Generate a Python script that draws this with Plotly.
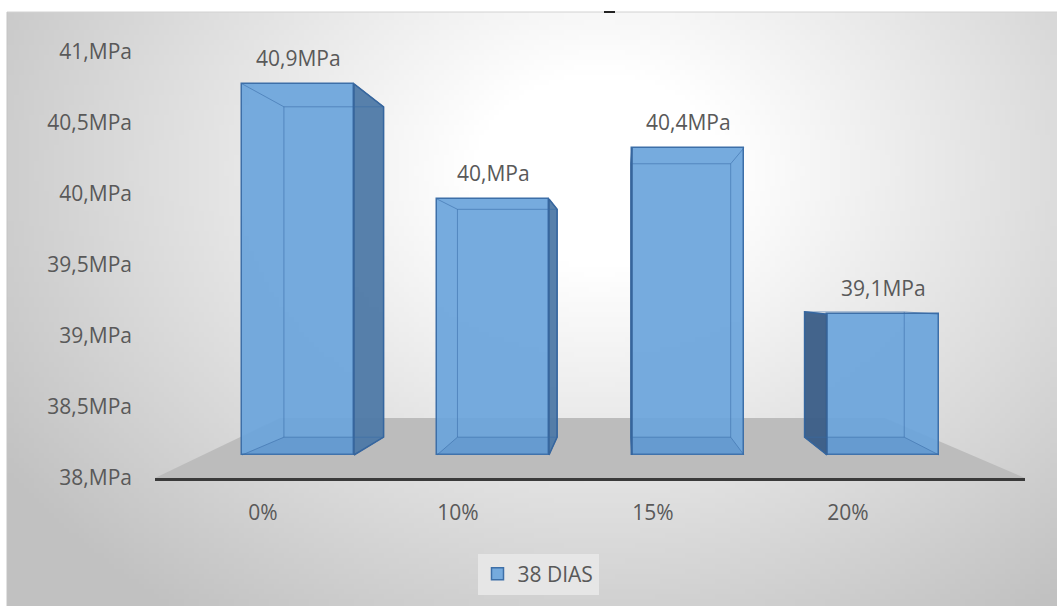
import base64
import math
import struct
import zlib

import plotly.graph_objects as go

# ---- data -------------------------------------------------------------
categories = ["0%", "10%", "15%", "20%"]
resistencia = [40.9, 40.0, 40.4, 39.1]          # MPa
serie = "38 DIAS"
y_ticks = [38.0, 38.5, 39.0, 39.5, 40.0, 40.5, 41.0]
FLOOR_VALUE = 38.0

# ---- page geometry (pixels) --------------------------------------------
W, H = 1057, 606
PLOT_L, PLOT_R = 155, 1025
PLOT_T, PLOT_B = 20, 478
X0_PX, X_STEP = 263, 195          # first category label, spacing
Y_SCALE = 142                      # px per MPa on the visible axis
BAR_FLOOR_PX, BAR_SCALE = 455, 128  # bar frame (front faces)

BAR_SHIFT = 35 / X_STEP           # front faces sit a little right of labels
BAR_W = 112 / X_STEP
VANISH_PX = (623, 293)            # perspective vanishing point
K = 0.89                          # depth factor of the back faces

TXT = "#595959"
FONT = "Open Sans"
FS = 21


def mpa(v):
    tenths = int(round(v * 10))
    whole, dec = divmod(tenths, 10)
    return f"{whole},{dec if dec else ''}MPa"


x_range = [(PLOT_L - X0_PX) / X_STEP, (PLOT_R - X0_PX) / X_STEP]
y_range = [FLOOR_VALUE, FLOOR_VALUE + (PLOT_B - PLOT_T) / Y_SCALE]
y2_range = [FLOOR_VALUE - (PLOT_B - BAR_FLOOR_PX) / BAR_SCALE,
            FLOOR_VALUE + (BAR_FLOOR_PX - PLOT_T) / BAR_SCALE]
VX = (VANISH_PX[0] - X0_PX) / X_STEP
VY = FLOOR_VALUE + (BAR_FLOOR_PX - VANISH_PX[1]) / BAR_SCALE


def back(x, y):
    return VX + K * (x - VX), VY + K * (y - VY)


# ---- radial background -------------------------------------------------
def gray_png(w, h, pix):
    raw = b"".join(b"\x00" + bytes(pix[r * w:(r + 1) * w]) for r in range(h))

    def chunk(tag, data):
        body = tag + data
        return struct.pack(">I", len(data)) + body + struct.pack(">I", zlib.crc32(body) & 0xFFFFFFFF)

    return (b"\x89PNG\r\n\x1a\n"
            + chunk(b"IHDR", struct.pack(">IIBBBBB", w, h, 8, 0, 0, 0, 0))
            + chunk(b"IDAT", zlib.compress(raw, 9))
            + chunk(b"IEND", b""))


BG_X, BG_Y = 7, 12
GW, GH = 210, 118
pix = []
for r in range(GH):
    for c in range(GW):
        px = BG_X + (c + 0.5) / GW * (W - BG_X)
        py = BG_Y + (r + 0.5) / GH * (H - BG_Y)
        d = math.hypot((px - 600) / 620, (py - 170) / 480)
        t = min(max((d - 0.2) / 0.95, 0.0), 1.0)
        pix.append(int(round(255 - 62 * t)))
bg_uri = "data:image/png;base64," + base64.b64encode(gray_png(GW, GH, pix)).decode()

fig = go.Figure()

# ---- front faces --------------------------------------------------------
fig.add_trace(go.Bar(
    x=[i + BAR_SHIFT for i in range(len(categories))],
    y=[v - FLOOR_VALUE for v in resistencia],
    base=FLOOR_VALUE,
    width=BAR_W,
    yaxis="y2",
    name=serie,
    marker=dict(color="rgba(108,165,220,0.93)", line=dict(color="#3d6fa8", width=1.5)),
    hoverinfo="skip",
))

# ---- side / bottom faces and hidden edges -------------------------------
edge_x, edge_y = [], []
for i, v in enumerate(resistencia):
    cx = i + BAR_SHIFT
    fx0, fx1 = cx - BAR_W / 2, cx + BAR_W / 2
    fy0, fy1 = FLOOR_VALUE, v
    bx0, by0 = back(fx0, fy0)
    bx1, by1 = back(fx1, fy1)

    # floor of the box, seen through the front
    fig.add_trace(go.Scatter(
        x=[fx0, fx1, bx1, bx0, fx0], y=[fy0, fy0, by0, by0, fy0],
        yaxis="y2", mode="lines", fill="toself",
        fillcolor="rgba(70,125,185,0.25)", line=dict(width=0),
        showlegend=False, hoverinfo="skip"))

    if cx < VX:
        sx = [fx1, fx1, bx1, bx1, fx1]
        side_col = "rgba(78,121,166,0.95)"
    else:
        sx = [fx0, fx0, bx0, bx0, fx0]
        side_col = "rgba(58,93,135,0.95)"
    fig.add_trace(go.Scatter(
        x=sx, y=[fy0, fy1, by1, by0, fy0],
        yaxis="y2", mode="lines", fill="toself", fillcolor=side_col,
        line=dict(color="#36649a", width=1.5),
        showlegend=False, hoverinfo="skip"))

    edge_x += [bx0, bx1, bx1, bx0, bx0, None]
    edge_y += [by0, by0, by1, by1, by0, None]
    for fx, bx in ((fx0, bx0), (fx1, bx1)):
        for fy, by in ((fy0, by0), (fy1, by1)):
            edge_x += [fx, bx, None]
            edge_y += [fy, by, None]

fig.add_trace(go.Scatter(
    x=edge_x, y=edge_y, yaxis="y2", mode="lines",
    line=dict(color="rgba(55,105,165,0.55)", width=1),
    showlegend=False, hoverinfo="skip"))

# ---- value labels ------------------------------------------------------
for i, v in enumerate(resistencia):
    fig.add_annotation(
        x=i + BAR_SHIFT, y=v, xref="x", yref="y2", yshift=26,
        text=mpa(v), showarrow=False, font=dict(family=FONT, size=FS, color=TXT))

# ---- floor plane -------------------------------------------------------
floor_back_y = FLOOR_VALUE + 60 / Y_SCALE
fb_l = (280 - X0_PX) / X_STEP
fb_r = (885 - X0_PX) / X_STEP
fig.add_shape(
    type="path", xref="x", yref="y", layer="below",
    path=(f"M {x_range[0]},{FLOOR_VALUE} L {x_range[1]},{FLOOR_VALUE} "
          f"L {fb_r},{floor_back_y} L {fb_l},{floor_back_y} Z"),
    fillcolor="#bcbcbc", line=dict(width=0))

# chart-area frame and the small title dash
fig.add_shape(type="line", xref="paper", yref="paper",
              x0=BG_X / W, x1=1, y0=1 - BG_Y / H, y1=1 - BG_Y / H,
              line=dict(color="#d2d2d2", width=1))
fig.add_shape(type="line", xref="paper", yref="paper",
              x0=BG_X / W, x1=BG_X / W, y0=0, y1=1 - BG_Y / H,
              line=dict(color="#c4c4c4", width=1))
fig.add_shape(type="line", xref="paper", yref="paper",
              x0=604 / W, x1=615 / W, y0=1 - 12 / H, y1=1 - 12 / H,
              line=dict(color="#222222", width=2))

fig.add_layout_image(
    source=bg_uri, xref="paper", yref="paper",
    x=BG_X / W, y=1 - BG_Y / H, sizex=(W - BG_X) / W, sizey=(H - BG_Y) / H,
    xanchor="left", yanchor="top", sizing="stretch", layer="below")

fig.update_layout(
    width=W, height=H,
    margin=dict(l=0, r=0, t=0, b=0, autoexpand=False),
    paper_bgcolor="white",
    plot_bgcolor="rgba(0,0,0,0)",
    font=dict(family=FONT, size=FS, color=TXT),
    bargap=0,
    xaxis=dict(
        domain=[PLOT_L / W, PLOT_R / W], range=x_range, fixedrange=True,
        tickvals=list(range(len(categories))), ticktext=categories,
        ticks="", showgrid=False, zeroline=False,
        showline=True, linecolor="#3a3a3a", linewidth=3,
        ticklabelstandoff=14, tickfont=dict(family=FONT, size=FS, color=TXT)),
    yaxis=dict(
        domain=[1 - PLOT_B / H, 1 - PLOT_T / H], range=y_range, fixedrange=True,
        tickvals=y_ticks, ticktext=[mpa(t) for t in y_ticks],
        ticks="", showgrid=False, zeroline=False, showline=False,
        ticklabelstandoff=22, tickfont=dict(family=FONT, size=FS, color=TXT)),
    yaxis2=dict(overlaying="y", range=y2_range, visible=False, fixedrange=True),
    showlegend=True,
    legend=dict(
        orientation="h", x=538 / W, xanchor="center",
        y=1 - 574 / H, yanchor="middle",
        bgcolor="rgba(232,232,232,0.9)",
        font=dict(family=FONT, size=FS, color=TXT)),
)

fig.write_html("out.html")
